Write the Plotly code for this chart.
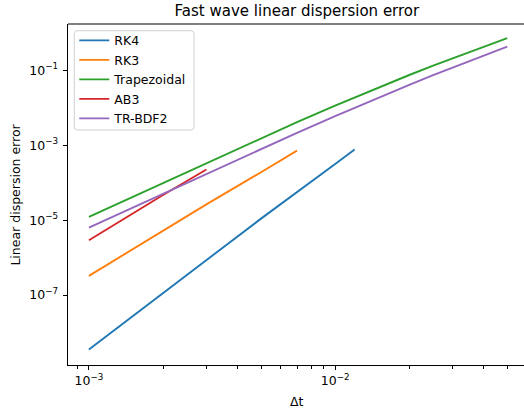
import plotly.graph_objects as go

# Time steps and linear dispersion errors for each integration scheme
dt_rk4 = [0.001, 0.002, 0.005, 0.01, 0.012]
err_rk4 = [3.56e-9, 1.15e-7, 1.10e-5, 3.16e-4, 7.67e-4]

dt_rk3 = [0.001, 0.002, 0.003, 0.005, 0.007]
err_rk3 = [3.27e-7, 5.25e-6, 2.63e-5, 1.9e-4, 7.2e-4]

dt_trap = [0.001, 0.0015, 0.002, 0.003, 0.004, 0.005, 0.007,
           0.01, 0.015, 0.02, 0.025, 0.03, 0.04, 0.05]
err_trap = [1.225e-5, 4.13e-5, 9.79e-5, 3.30e-4, 7.83e-4, 1.53e-3, 4.13e-3,
            1.146e-2, 3.48e-2, 7.48e-2, 0.133, 0.210, 0.427, 0.726]

dt_ab3 = [0.001, 0.002, 0.003]
err_ab3 = [2.9e-6, 4.68e-5, 2.25e-4]

dt_trbdf2 = [0.001, 0.0015, 0.002, 0.003, 0.004, 0.005, 0.007,
             0.01, 0.015, 0.02, 0.025, 0.03, 0.04, 0.05]
err_trbdf2 = [6.35e-6, 2.14e-5, 5.08e-5, 1.71e-4, 4.06e-4, 7.94e-4, 2.14e-3,
              5.94e-3, 1.87e-2, 4.10e-2, 7.43e-2, 0.119, 0.247, 0.429]

series = [
    ("RK4", dt_rk4, err_rk4, "#1f77b4"),
    ("RK3", dt_rk3, err_rk3, "#ff7f0e"),
    ("Trapezoidal", dt_trap, err_trap, "#2ca02c"),
    ("AB3", dt_ab3, err_ab3, "#d62728"),
    ("TR-BDF2", dt_trbdf2, err_trbdf2, "#9467bd"),
]

x_ticks = [1e-3, 1e-2]
x_ticktext = ["10<sup>\u22123</sup>", "10<sup>\u22122</sup>"]
x_minor = [9e-4, 2e-3, 3e-3, 4e-3, 5e-3, 6e-3, 7e-3, 8e-3, 9e-3, 2e-2, 3e-2, 4e-2, 5e-2]
y_ticks = [1e-7, 1e-5, 1e-3, 1e-1]
y_ticktext = ["10<sup>\u22127</sup>", "10<sup>\u22125</sup>", "10<sup>\u22123</sup>", "10<sup>\u22121</sup>"]

FONT = "DejaVu Sans"
FS = 12.5

fig = go.Figure()
for name, x, y, color in series:
    fig.add_trace(go.Scatter(x=x, y=y, mode="lines", name=name, legendgroup=name,
                             line=dict(color=color, width=1.9)))

axis_common = dict(
    showgrid=False, zeroline=False, showline=True, linecolor="black", linewidth=1,
    ticks="outside", ticklen=4.4, tickwidth=1, tickcolor="black",
    tickfont=dict(family=FONT, size=FS, color="black"),
)

fig.update_xaxes(type="log", range=[-3.085, -1.233], tickmode="array",
                 tickvals=x_ticks, ticktext=x_ticktext,
                 minor=dict(ticks="outside", ticklen=2.5, tickwidth=0.8,
                            tickcolor="black", tickvals=x_minor),
                 **axis_common)
fig.update_yaxes(type="log", range=[-8.865, 0.235], tickmode="array",
                 tickvals=y_ticks, ticktext=y_ticktext, ticklabelstandoff=2,
                 **axis_common)

# top edge of the axes frame
fig.add_shape(type="line", xref="paper", yref="paper", x0=0, x1=1.05, y0=1, y1=1,
              line=dict(color="black", width=1))

# rounded legend frame (paper coordinates of a 456x341 px plot area)
def px_x(p):
    return (p - 68) / 456

def px_y(p):
    return (365 - p) / 341

lx0, lx1, ly0, ly1, rr = 74.3, 194.0, 30.7, 130.0, 3.0
path = (f"M {px_x(lx0 + rr)},{px_y(ly0)} L {px_x(lx1 - rr)},{px_y(ly0)} "
        f"Q {px_x(lx1)},{px_y(ly0)} {px_x(lx1)},{px_y(ly0 + rr)} "
        f"L {px_x(lx1)},{px_y(ly1 - rr)} Q {px_x(lx1)},{px_y(ly1)} {px_x(lx1 - rr)},{px_y(ly1)} "
        f"L {px_x(lx0 + rr)},{px_y(ly1)} Q {px_x(lx0)},{px_y(ly1)} {px_x(lx0)},{px_y(ly1 - rr)} "
        f"L {px_x(lx0)},{px_y(ly0 + rr)} Q {px_x(lx0)},{px_y(ly0)} {px_x(lx0 + rr)},{px_y(ly0)} Z")
fig.add_shape(type="path", xref="paper", yref="paper", path=path,
              line=dict(color="#d0d0d0", width=1), fillcolor="rgba(255,255,255,0.8)",
              layer="below")

fig.add_annotation(text="\u0394t", xref="paper", yref="paper", x=0.502, y=-0.1085,
                   showarrow=False, xanchor="center", yanchor="middle",
                   font=dict(family=FONT, size=FS, color="black"))
fig.add_annotation(text="Linear dispersion error", xref="paper", yref="paper",
                   x=-0.116, y=0.5, textangle=-90, showarrow=False,
                   xanchor="center", yanchor="middle",
                   font=dict(family=FONT, size=FS, color="black"))

fig.update_layout(
    width=524, height=412,
    margin=dict(l=68, r=0, t=24, b=47),
    paper_bgcolor="white", plot_bgcolor="white",
    title=dict(text="Fast wave linear dispersion error", xref="paper", x=0.502,
               xanchor="center", yref="container", y=1 - 10.5 / 412, yanchor="middle",
               font=dict(family=FONT, size=15, color="black")),
    legend=dict(x=0.0138, y=0.995, xanchor="left", yanchor="top",
                borderwidth=0, bgcolor="rgba(0,0,0,0)", tracegroupgap=0.25,
                font=dict(family=FONT, size=FS, color="black")),
    showlegend=True,
)

fig.write_html("out.html")
